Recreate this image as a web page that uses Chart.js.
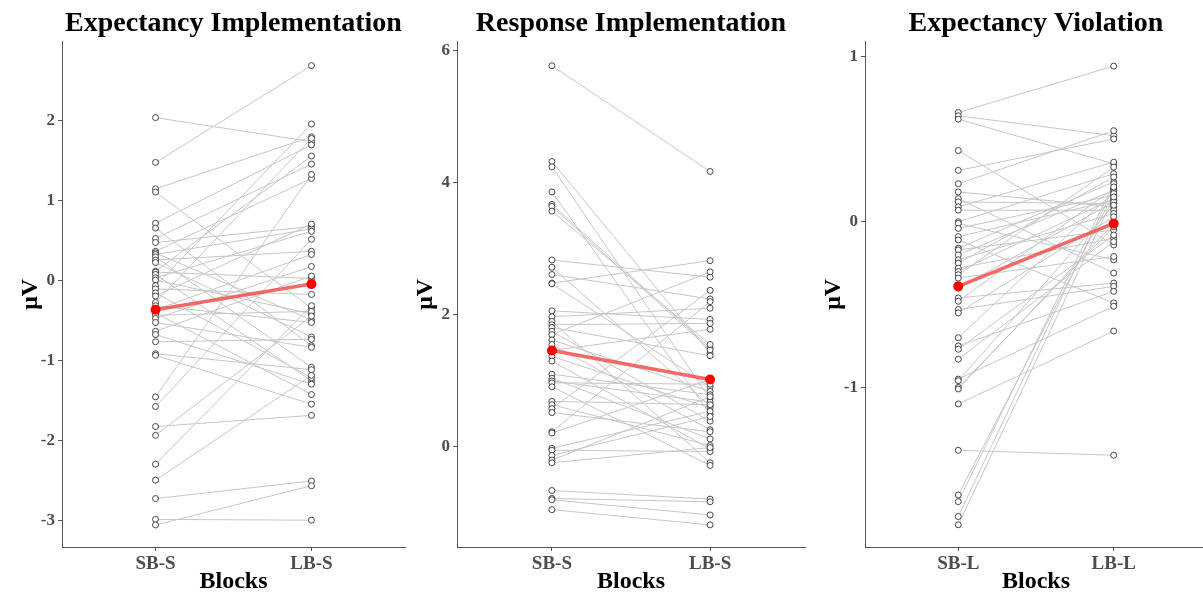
<!DOCTYPE html>
<html><head><meta charset="utf-8">
<script src="https://cdn.jsdelivr.net/npm/chart.js@4.4.1/dist/chart.umd.min.js"></script>
<style>
html,body{margin:0;padding:0;background:#fff;width:1203px;height:596px;overflow:hidden;position:relative}
canvas{position:absolute;top:0}
</style></head>
<body>
<canvas id="c1"></canvas><canvas id="c2"></canvas><canvas id="c3"></canvas>
<script>
// ---------- data ----------
const titles = ['Expectancy Implementation', 'Response Implementation', 'Expectancy Violation'];
const categoriesEI = ['SB-S', 'LB-S'];
const categoriesRI = ['SB-S', 'LB-S'];
const categoriesEV = ['SB-L', 'LB-L'];
const yTicksEI = [-3, -2, -1, 0, 1, 2];
const yTicksRI = [0, 2, 4, 6];
const yTicksEV = [-1, 0, 1];

// Expectancy Implementation (per participant)
const eiSB = [2.04, 1.48, 1.15, 1.11, 0.72, 0.66, 0.53, 0.48, 0.37, 0.35, 0.33, 0.30, 0.26, 0.23, 0.12, 0.11, 0.08, 0.04, 0.01, -0.06, -0.10, -0.15, -0.19, -0.27, -0.31, -0.36, -0.40, -0.43, -0.47, -0.52, -0.63, -0.67, -0.76, -0.91, -0.93, -1.45, -1.57, -1.82, -1.93, -2.29, -2.49, -2.72, -2.98, -3.05];
const eiLB = [1.74, 2.69, 1.80, -0.34, 1.70, -0.81, 1.46, 0.68, 1.28, -0.49, 0.65, -1.08, 0.37, -0.70, 1.56, 0.03, -1.25, 0.62, -0.41, 1.96, -0.17, -1.21, 0.71, 1.78, -0.52, 0.33, -1.42, -0.38, 0.18, -0.83, 0.06, -1.29, -0.73, -1.11, -1.54, 1.33, 0.52, -1.68, -0.44, -0.31, -1.18, -2.50, -2.99, -2.56];
const eiMean = [-0.36, -0.04];

// Response Implementation
const riSB = [5.77, 4.32, 4.24, 3.86, 3.67, 3.64, 3.57, 2.83, 2.72, 2.61, 2.48, 2.47, 2.06, 1.97, 1.90, 1.85, 1.81, 1.75, 1.70, 1.62, 1.55, 1.46, 1.37, 1.30, 1.10, 1.04, 1.00, 0.97, 0.91, 0.69, 0.64, 0.58, 0.52, 0.23, 0.21, -0.02, -0.05, -0.13, -0.20, -0.24, -0.66, -0.78, -0.80, -0.95];
const riLB = [4.17, 1.42, 0.73, 0.50, 1.50, 1.47, 1.55, 2.57, 0.62, 2.24, 2.82, 0.91, 1.93, 2.10, -0.24, 1.87, 1.38, 0.39, 2.65, 0.84, 0.26, 1.78, 0.59, -0.03, 0.79, 0.12, 0.68, 0.95, -0.28, 0.64, 0.02, 2.37, 0.23, 2.20, 1.02, 0.54, -0.07, 0.46, 0.76, -0.01, -0.79, -0.83, -1.03, -1.18];
const riMean = [1.46, 1.02];

// Expectancy Violation
const evSB = [0.66, 0.64, 0.62, 0.43, 0.31, 0.23, 0.18, 0.14, 0.12, 0.09, 0.07, 0.00, -0.01, -0.04, -0.09, -0.11, -0.16, -0.17, -0.20, -0.23, -0.25, -0.28, -0.30, -0.32, -0.34, -0.40, -0.46, -0.48, -0.53, -0.55, -0.70, -0.75, -0.77, -0.83, -0.95, -0.96, -1.00, -1.01, -1.10, -1.38, -1.65, -1.69, -1.78, -1.83];
const evLB = [0.94, 0.52, 0.35, -0.14, 0.50, 0.55, 0.09, -0.31, 0.11, 0.36, 0.07, 0.29, -0.23, 0.16, 0.13, -0.49, 0.24, -0.05, 0.19, 0.05, 0.27, -0.10, 0.14, 0.33, -0.21, 0.12, -0.37, 0.20, -0.39, 0.03, 0.18, -0.42, -0.08, -0.12, -0.51, 0.10, -0.03, -0.01, -0.66, -1.41, 0.17, 0.23, 0.21, 0.15];
const evMean = [-0.39, -0.01];

// ---------- drawing ----------
const SERIF = '"Liberation Serif", "Times New Roman", serif';

function buildChart(id, cfg) {
  const cv = document.getElementById(id);
  cv.width = cfg.width; cv.height = 596;
  cv.style.left = cfg.left + 'px';
  cv.style.width = cfg.width + 'px'; cv.style.height = '596px';

  const datasets = [];
  datasets.push({
    data: cfg.mean.map((v, i) => ({x: i + 1, y: v})),
    showLine: true, borderColor: 'rgba(240,80,80,0.85)', borderWidth: 3.5,
    pointRadius: 5, pointBackgroundColor: '#ff0000', pointBorderColor: '#ff0000', pointBorderWidth: 0,
    order: 0
  });
  const pts = [];
  cfg.sb.forEach(v => pts.push({x: 1, y: v}));
  cfg.lb.forEach(v => pts.push({x: 2, y: v}));
  datasets.push({
    data: pts, showLine: false, pointRadius: 3, pointBackgroundColor: '#ffffff',
    pointBorderColor: '#333333', pointBorderWidth: 0.9, order: 1
  });
  cfg.sb.forEach((v, i) => {
    datasets.push({
      data: [{x: 1, y: v}, {x: 2, y: cfg.lb[i]}],
      showLine: true, borderColor: '#c6c6c6', borderWidth: 1, pointRadius: 0, order: 2
    });
  });

  return new Chart(cv, {
    type: 'scatter',
    data: {datasets},
    options: {
      responsive: false, animation: false, devicePixelRatio: 1,
      layout: {padding: 0},
      plugins: {
        legend: {display: false}, tooltip: {enabled: false},
        title: {
          display: true, text: cfg.title, fullSize: false, color: '#000',
          font: {family: SERIF, size: 28, weight: 'bold'},
          padding: {top: 7, bottom: 1}
        }
      },
      scales: {
        x: {
          type: 'linear', min: cfg.xMin, max: cfg.xMax,
          afterBuildTicks: s => { s.ticks = cfg.cats.map((c, i) => ({value: i + 1})); },
          afterFit: s => { s.height = 49; s.paddingLeft = 0; s.paddingRight = 0; },
          ticks: {
            callback: v => cfg.cats[v - 1], color: '#4d4d4d', padding: 2, autoSkip: false, maxRotation: 0,
            font: {family: SERIF, size: 19, weight: 'bold'}
          },
          grid: {drawOnChartArea: false, drawTicks: true, tickLength: 4, color: '#555'},
          border: {display: true, color: '#555', width: 1},
          title: {display: true, text: 'Blocks', color: '#000', font: {family: SERIF, size: 24, weight: 'bold'}, padding: {top: 0, bottom: 0}}
        },
        y: {
          type: 'linear', min: cfg.yMin, max: cfg.yMax,
          afterBuildTicks: s => { s.ticks = cfg.yTicks.map(v => ({value: v})); },
          afterFit: s => { s.width = 47; s.paddingTop = 0; s.paddingBottom = 0; },
          ticks: {color: '#4d4d4d', padding: 3, font: {family: SERIF, size: 17, weight: 'bold'}},
          grid: {drawOnChartArea: false, drawTicks: true, tickLength: 4, color: '#555'},
          border: {display: true, color: '#555', width: 1},
          title: {display: true, text: 'μV', color: '#000', font: {family: SERIF, size: 24, weight: 'bold'}, padding: {top: 1, bottom: 0}}
        }
      }
    }
  });
}

buildChart('c1', {left: 15, width: 395, title: titles[0], cats: categoriesEI, yTicks: yTicksEI,
  sb: eiSB, lb: eiLB, mean: eiMean, yMin: -3.325, yMax: 2.99, xMin: 0.4, xMax: 2.6});
buildChart('c2', {left: 410, width: 400, title: titles[1], cats: categoriesRI, yTicks: yTicksRI,
  sb: riSB, lb: riLB, mean: riMean, yMin: -1.515, yMax: 6.136, xMin: 0.4, xMax: 2.6});
buildChart('c3', {left: 818, width: 394, title: titles[2], cats: categoriesEV, yTicks: yTicksEV,
  sb: evSB, lb: evLB, mean: evMean, yMin: -1.964, yMax: 1.088, xMin: 0.4, xMax: 2.6});
</script>
</body></html>
